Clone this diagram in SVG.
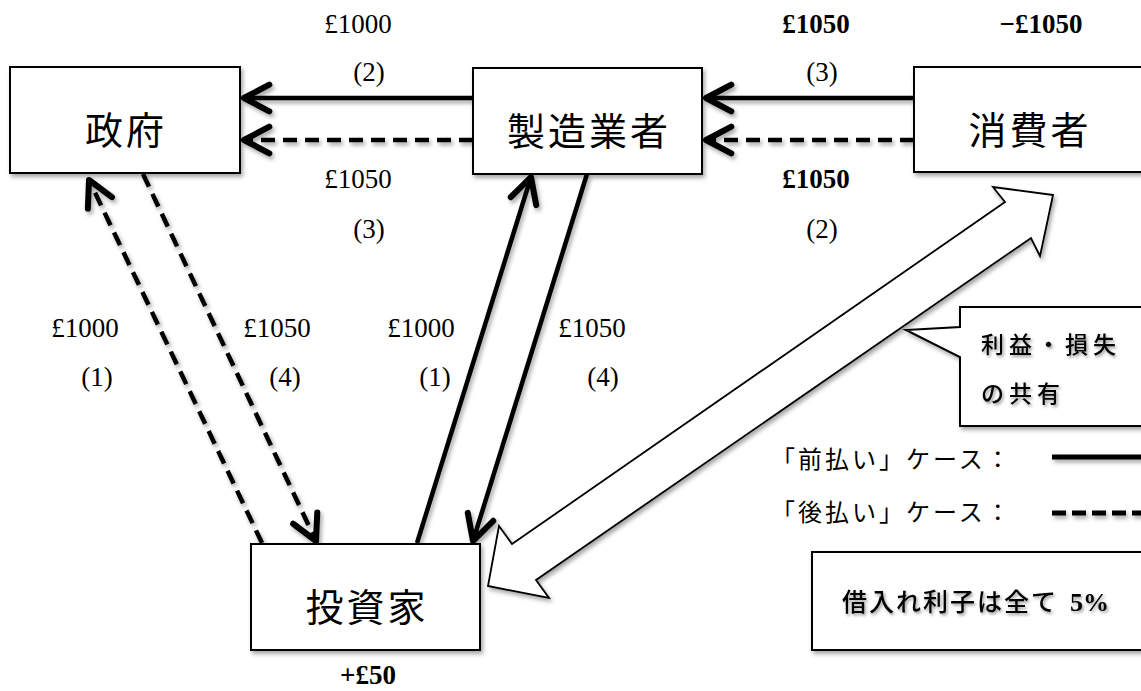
<svg xmlns="http://www.w3.org/2000/svg" width="1141" height="691" viewBox="0 0 1141 691">
<style>
.box{fill:#fff;stroke:#000;stroke-width:2}
.node{font-family:"Noto Sans CJK JP","Noto Sans",sans-serif;font-size:38px;letter-spacing:3px;text-anchor:middle;fill:#000}
.lbl{font-family:"Liberation Serif","Times New Roman",serif;font-size:27px;text-anchor:middle;fill:#000}
.b{font-weight:bold}
.ln{fill:none;stroke:#000;stroke-width:4.5}
.dash{stroke-dasharray:14 8}
.leg{font-family:"Noto Sans CJK JP","Noto Sans",sans-serif;font-size:24px;letter-spacing:3px;fill:#000}
</style>
<defs>
<filter id="sh" x="-10%" y="-10%" width="130%" height="130%">
<feDropShadow dx="2" dy="3" stdDeviation="2" flood-color="#000" flood-opacity="0.35"/>
</filter>
<filter id="tsh" x="-10%" y="-20%" width="130%" height="160%">
<feDropShadow dx="1.5" dy="2" stdDeviation="1.5" flood-color="#000" flood-opacity="0.4"/>
</filter>
<marker id="ah" markerUnits="userSpaceOnUse" markerWidth="40" markerHeight="40" viewBox="-25 -15 30 30" refX="0" refY="0" orient="auto" overflow="visible">
<path d="M-19,-10 L0,0 L-19,10" fill="none" stroke="#000" stroke-width="4.5" stroke-linecap="round" stroke-linejoin="round"/>
</marker>
</defs>
<rect width="1141" height="691" fill="#fff"/>

<g id="connectors" filter="url(#sh)">
<line class="ln" x1="473" y1="98" x2="244" y2="98" marker-end="url(#ah)"/>
<line class="ln dash" x1="473" y1="140" x2="244" y2="140" marker-end="url(#ah)"/>
<line class="ln" x1="914" y1="98" x2="706" y2="98" marker-end="url(#ah)"/>
<line class="ln dash" x1="914" y1="140" x2="706" y2="140" marker-end="url(#ah)"/>
<line class="ln dash" x1="262" y1="543" x2="89" y2="180" marker-end="url(#ah)"/>
<line class="ln dash" x1="143" y1="174" x2="316" y2="541" marker-end="url(#ah)"/>
<line class="ln" x1="417" y1="543" x2="531" y2="177" marker-end="url(#ah)"/>
<line class="ln" x1="587" y1="174" x2="473" y2="541" marker-end="url(#ah)"/>
<polygon points="1053,195 993,187 1005,202 512,544 499,526 488,586 549,598 536,580 1031,238 1040,256" fill="#fff" stroke="#000" stroke-width="1.8" stroke-linejoin="miter"/>
</g>

<g id="labels">
<text class="lbl" x="358" y="33">£1000</text>
<text class="lbl" x="369" y="81">(2)</text>
<text class="lbl" x="358" y="188">£1050</text>
<text class="lbl" x="369" y="238">(3)</text>
<text class="lbl b" x="816" y="33">£1050</text>
<text class="lbl" x="822" y="81">(3)</text>
<text class="lbl b" x="816" y="188">£1050</text>
<text class="lbl" x="822" y="238">(2)</text>
<text class="lbl b" x="1041" y="33">−£1050</text>
<text class="lbl" x="85" y="337">£1000</text>
<text class="lbl" x="97" y="386">(1)</text>
<text class="lbl" x="277" y="337">£1050</text>
<text class="lbl" x="285" y="386">(4)</text>
<text class="lbl" x="421" y="337">£1000</text>
<text class="lbl" x="435" y="386">(1)</text>
<text class="lbl" x="592" y="337">£1050</text>
<text class="lbl" x="603" y="386">(4)</text>
<text class="lbl b" x="368" y="684">+£50</text>
</g>

<g id="node-government">
<rect class="box" x="10" y="67" width="230" height="106" filter="url(#sh)"/>
<text class="node" x="126" y="144">政府</text>
</g>
<g id="node-manufacturer">
<rect class="box" x="473" y="68" width="229" height="106" filter="url(#sh)"/>
<text class="node" x="589" y="145">製造業者</text>
</g>
<g id="node-consumer">
<rect class="box" x="914" y="67" width="229" height="105" filter="url(#sh)"/>
<text class="node" x="1030" y="144">消費者</text>
</g>
<g id="node-investor">
<rect class="box" x="251" y="544" width="229" height="106" filter="url(#sh)"/>
<text class="node" x="367" y="621">投資家</text>
</g>

<g id="callout">
<path d="M960,307 H1150 V426 H960 V357 L906,330 L960,327 Z" fill="#fff" stroke="#000" stroke-width="2" filter="url(#sh)"/>
<text class="leg" x="981" y="353" style="font-size:23px;letter-spacing:5px;font-weight:500" filter="url(#tsh)">利益・損失</text>
<text class="leg" x="981" y="402" style="font-size:23px;letter-spacing:5px;font-weight:500" filter="url(#tsh)">の共有</text>
</g>

<g id="legend">
<text class="leg" x="771" y="468">「前払い」ケース：</text>
<text class="leg" x="771" y="521">「後払い」ケース：</text>
<g filter="url(#sh)">
<line x1="1052" y1="457" x2="1145" y2="457" stroke="#000" stroke-width="5"/>
<line x1="1052" y1="513" x2="1145" y2="513" stroke="#000" stroke-width="5" stroke-dasharray="14 6"/>
</g>
</g>

<g id="note">
<rect class="box" x="812" y="552" width="340" height="98" filter="url(#sh)"/>
<text filter="url(#tsh)" y="611"><tspan class="leg" x="842" style="font-size:25px;letter-spacing:2px;font-weight:500">借入れ利子は全て</tspan><tspan x="1070" style="font-family:'Liberation Serif',serif;font-weight:bold;font-size:26px">5%</tspan></text>
</g>
</svg>
